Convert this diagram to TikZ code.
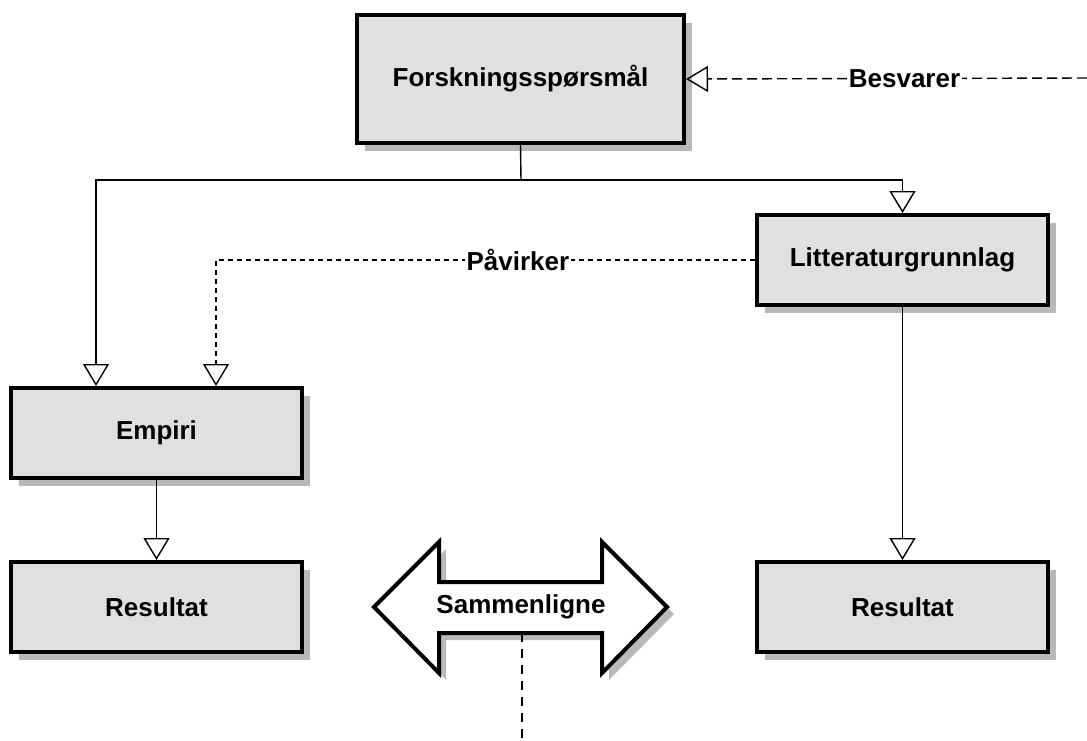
\documentclass[tikz,border=0pt]{standalone}
\usepackage{fontspec}
\setmainfont{Liberation Sans}
\usetikzlibrary{arrows.meta,shadows,calc}
\definecolor{boxfill}{RGB}{224,224,224}
\definecolor{shadowgray}{RGB}{185,185,185}
\begin{document}
\begin{tikzpicture}[x=1pt,y=-1pt,
  lbl/.style={font=\bfseries\fontsize{26}{30}\selectfont},
  box/.style={draw, line width=4pt, fill=boxfill, inner sep=0pt,
    minimum width=291pt, minimum height=90pt,
    drop shadow={shadow xshift=8pt, shadow yshift=-8pt, fill=shadowgray, opacity=1},
    font=\bfseries\fontsize{26}{30}\selectfont},
  arr/.style={line width=1.4pt, -{Triangle[open, length=22pt, width=26pt, line width=1.4pt]}},
  besv/.style={dash pattern=on 10pt off 5pt},
  pav/.style={dash pattern=on 5pt off 4pt},
  cmpdash/.style={line width=1.4pt, dash pattern=on 9pt off 7pt},
  tag/.style={lbl, fill=white, inner sep=2pt}
]
\useasboundingbox (0,0) rectangle (1087,740);

\node[box, minimum width=327pt, minimum height=128pt] (f) at (520.5,79) {Forskningsspørsmål};
\node[box] (l) at (902.5,260) {Litteraturgrunnlag};
\node[box] (e) at (156.5,433) {Empiri};
\node[box] (r1) at (156.5,607) {Resultat};
\node[box] (r2) at (902.5,607) {Resultat};

% double arrow
\draw[line width=4pt, line join=miter, fill=white,
  drop shadow={shadow xshift=7pt, shadow yshift=-7pt, fill=shadowgray, opacity=1}]
  (374,607) -- (439,542) -- (439,582) -- (602,582) -- (602,542) -- (667,607)
  -- (602,673) -- (602,633) -- (439,633) -- (439,673) -- cycle;
\node[lbl] (cmp) at (521,607) {Sammenligne};
\coordinate (cmpbot) at (522,633);
\coordinate (cmpend) at (522,740);
\draw[cmpdash] (cmpbot) -- (cmpend);

% connectors
\coordinate (split) at (521,180);
\coordinate (besvstart) at (1087,78);
\draw[line width=1.4pt] (f.south) -- (split);
\draw[arr] (split) -| ([xshift=87pt]e.north west);
\draw[arr] (split) -| (l.north);
\draw[arr, besv] (besvstart) -- (f.east) node[tag, pos=0.455] {Besvarer};
\draw[arr, pav] (l.west) -| ([xshift=207pt]e.north west) node[tag, pos=0.22] {Påvirker};
\draw[arr] (e.south) -- (r1.north);
\draw[arr] (l.south) -- (r2.north);
\end{tikzpicture}
\end{document}
